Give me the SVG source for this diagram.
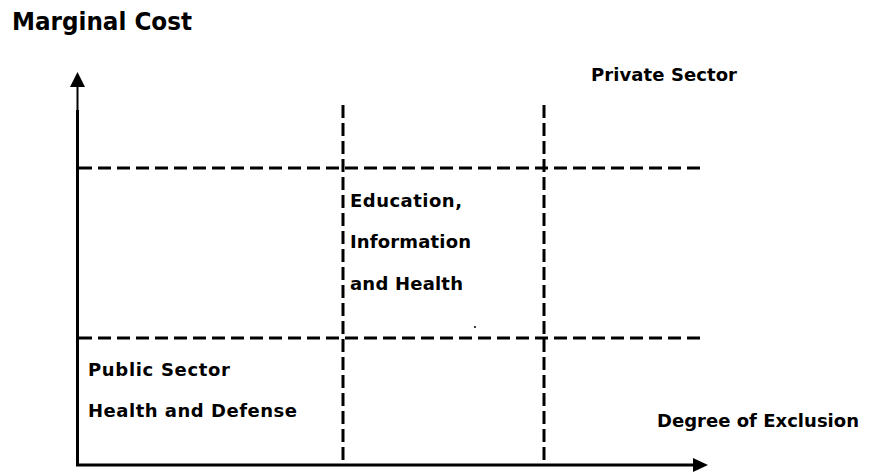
<svg xmlns="http://www.w3.org/2000/svg" width="871" height="472" viewBox="0 0 871 472">
<style>
text{font-family:"DejaVu Sans","Liberation Sans",sans-serif;font-weight:bold;fill:#000}
.lbl{font-size:18px}
.dh{stroke:#000;stroke-width:3;stroke-dasharray:13 6;fill:none}
.dv{stroke:#000;stroke-width:3;stroke-dasharray:13 5;fill:none}
.ax{stroke:#000;fill:none}
</style>
<rect width="871" height="472" fill="#fff"/>
<g id="connectors">
  <line class="ax" x1="77.5" y1="466" x2="77.5" y2="110" stroke-width="3"/>
  <line class="ax" x1="77.5" y1="112" x2="77.5" y2="86" stroke-width="2"/>
  <polygon points="77.5,72 70,87 85,87" fill="#000"/>
  <line class="ax" x1="76" y1="465" x2="695" y2="465" stroke-width="3"/>
  <polygon points="708,465 693,458 693,472" fill="#000"/>
  <line class="dh" x1="79" y1="168" x2="704" y2="168"/>
  <line class="dh" x1="79" y1="338" x2="704" y2="338"/>
  <line class="dv" x1="343" y1="105" x2="343" y2="464"/>
  <line class="dv" x1="544" y1="105" x2="544" y2="464"/>
  <circle cx="475" cy="327" r="1" fill="#000"/>
</g>
<g id="node-marginal-cost">
  <text x="12" y="30" font-size="25" textLength="180" lengthAdjust="spacingAndGlyphs">Marginal Cost</text>
</g>
<g id="node-private-sector">
  <text class="lbl" x="591" y="81" textLength="146">Private Sector</text>
</g>
<g id="node-education">
  <text class="lbl" x="350" y="207" textLength="112">Education,</text>
  <text class="lbl" x="350" y="248" textLength="121">Information</text>
  <text class="lbl" x="350" y="290" textLength="113">and Health</text>
</g>
<g id="node-public-sector">
  <text class="lbl" x="88" y="376" textLength="142">Public Sector</text>
  <text class="lbl" x="88" y="417" textLength="209">Health and Defense</text>
</g>
<g id="node-degree-of-exclusion">
  <text class="lbl" x="657" y="427" textLength="202">Degree of Exclusion</text>
</g>
</svg>
